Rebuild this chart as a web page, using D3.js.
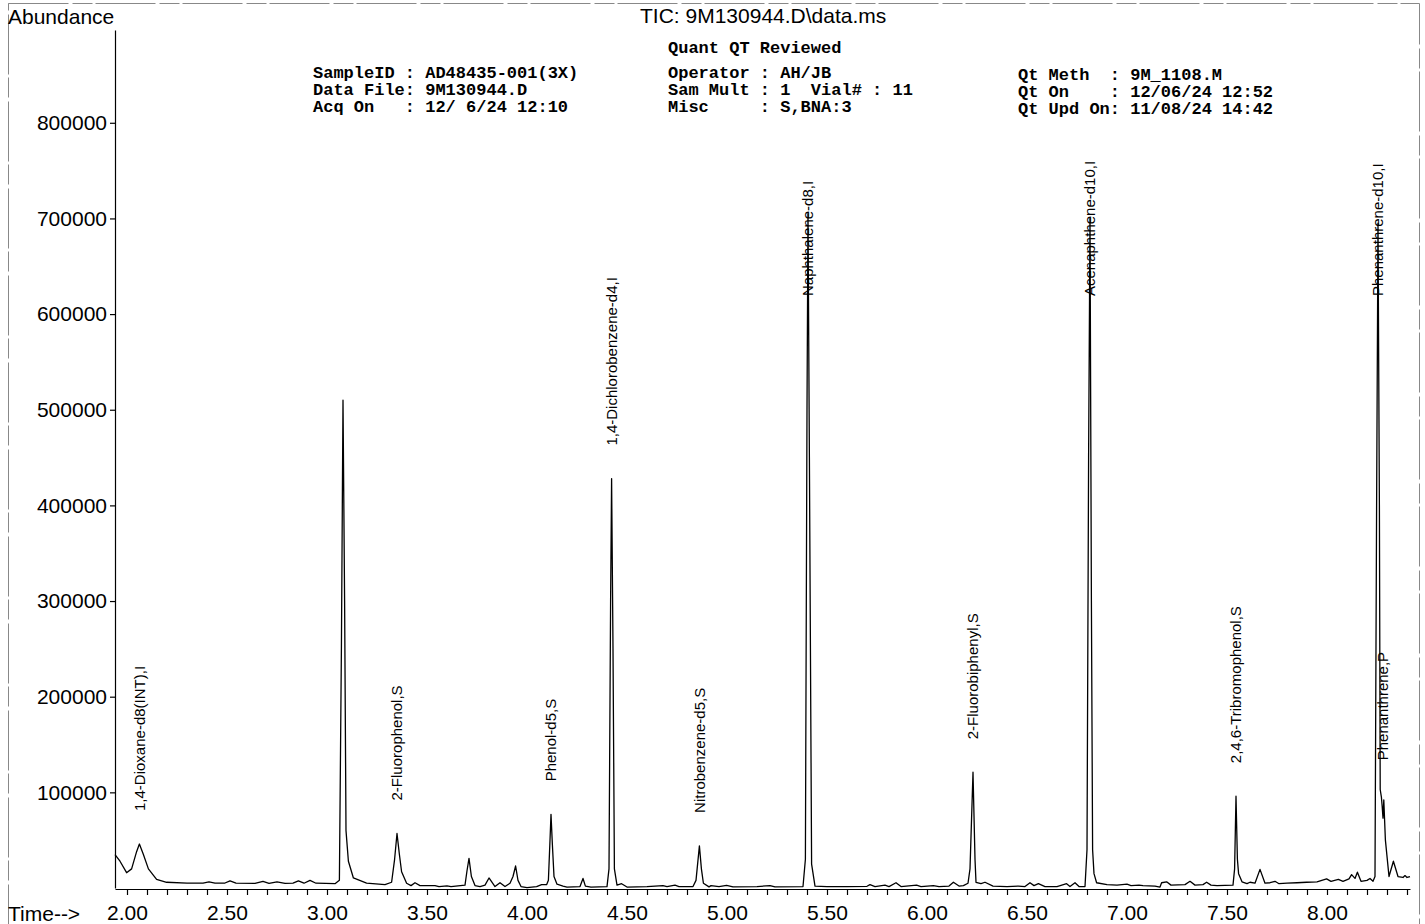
<!DOCTYPE html>
<html>
<head>
<meta charset="utf-8">
<script src="https://cdn.jsdelivr.net/npm/d3@7"></script>
<style>
  body { margin: 0; background: #fff; }
  svg { display: block; font-family: Arial, "Liberation Sans", sans-serif; }
  .mono { font-family: "Courier New", "Liberation Mono", monospace; font-weight: bold; font-size: 17px; white-space: pre; }
  .axis text { font-family: Arial, "Liberation Sans", sans-serif; font-size: 21px; fill: #000; }
  .axis path, .axis line { stroke: #000; stroke-width: 1.2; }
</style>
</head>
<body>
<svg id="chart"></svg>
<script>
// TIC trace: retention time (min) and abundance
const traceTimes = [
  1.940, 1.965, 1.998, 2.023, 2.048, 2.062, 2.082, 2.107, 2.148, 2.198,
  2.300, 2.380, 2.410, 2.440, 2.490, 2.515, 2.545, 2.640, 2.680, 2.710,
  2.750, 2.790, 2.830, 2.857, 2.885, 2.915, 2.945, 3.040, 3.062, 3.072,
  3.080, 3.088, 3.095, 3.107, 3.132, 3.198, 3.290, 3.323, 3.338, 3.350,
  3.362, 3.373, 3.398, 3.420, 3.440, 3.465, 3.540, 3.560, 3.600, 3.620,
  3.690, 3.700, 3.710, 3.722, 3.740, 3.765, 3.790, 3.810, 3.840, 3.865,
  3.890, 3.915, 3.930, 3.943, 3.955, 3.970, 4.000, 4.048, 4.073, 4.098,
  4.107, 4.115, 4.120, 4.127, 4.135, 4.150, 4.180, 4.200, 4.265, 4.280,
  4.292, 4.320, 4.400, 4.410, 4.418, 4.423, 4.430, 4.437, 4.450, 4.473,
  4.500, 4.600, 4.680, 4.700, 4.740, 4.760, 4.830, 4.845, 4.862, 4.872,
  4.882, 4.910, 4.920, 4.960, 4.998, 5.030, 5.150, 5.215, 5.240, 5.380,
  5.392, 5.400, 5.405, 5.412, 5.423, 5.440, 5.500, 5.600, 5.700, 5.715,
  5.740, 5.790, 5.810, 5.845, 5.870, 5.948, 5.970, 6.032, 6.060, 6.110,
  6.132, 6.160, 6.182, 6.205, 6.215, 6.230, 6.240, 6.245, 6.270, 6.290,
  6.330, 6.400, 6.457, 6.490, 6.515, 6.535, 6.557, 6.590, 6.650, 6.698,
  6.715, 6.740, 6.760, 6.790, 6.800, 6.808, 6.815, 6.822, 6.828, 6.835,
  6.848, 6.900, 6.950, 7.000, 7.020, 7.060, 7.080, 7.140, 7.165, 7.173,
  7.198, 7.220, 7.290, 7.315, 7.340, 7.380, 7.398, 7.420, 7.450, 7.530,
  7.538, 7.545, 7.552, 7.558, 7.575, 7.600, 7.615, 7.640, 7.665, 7.690,
  7.715, 7.740, 7.760, 7.800, 7.850, 7.898, 7.950, 7.998, 8.020, 8.057,
  8.080, 8.110, 8.123, 8.140, 8.152, 8.170, 8.200, 8.215, 8.230, 8.240,
  8.248, 8.255, 8.262, 8.266, 8.272, 8.276, 8.280, 8.284, 8.292, 8.310,
  8.332, 8.355, 8.380, 8.390, 8.400, 8.415
];
const traceAbundance = [
  35000, 28000, 16000, 20000, 38000, 46000, 35000, 20000, 9000, 6000,
  5000, 5200, 6500, 5000, 5200, 7500, 5000, 4800, 7000, 4800,
  6500, 4800, 5200, 7500, 5000, 8000, 5000, 4500, 8000, 250000,
  510000, 300000, 60000, 28000, 10500, 5200, 3500, 6000, 30000, 57000,
  35000, 17000, 5000, 2500, 5500, 2500, 2500, 1500, 2200, 1500,
  3000, 18000, 31000, 12000, 2500, 1500, 3000, 10500, 1500, 5500,
  1500, 5000, 12000, 23000, 8000, 1500, 500, 1500, 3500, 3500,
  8000, 50000, 77000, 45000, 12000, 4000, 2000, 1000, 1500, 10000,
  2000, 1000, 1500, 20000, 300000, 428000, 250000, 20000, 3000, 4500,
  1000, 1500, 2500, 1500, 3000, 1500, 1500, 8000, 44000, 20000,
  5000, 1200, 2500, 1500, 2800, 1200, 1500, 2500, 1200, 1500,
  30000, 500000, 705000, 450000, 25000, 2000, 1500, 1500, 1800, 3500,
  1500, 3000, 1500, 5500, 1500, 3000, 1500, 2500, 1500, 2000,
  6000, 2000, 2500, 5000, 20000, 121000, 30000, 6000, 4500, 6000,
  2000, 1500, 2000, 1500, 5500, 2500, 4500, 1500, 1500, 4500,
  1500, 5500, 1500, 1500, 40000, 450000, 700000, 300000, 40000, 15000,
  5500, 3500, 3000, 4000, 2500, 3000, 2500, 2000, 1000, 5500,
  6500, 3000, 3500, 7000, 3000, 3500, 6000, 3000, 2500, 3000,
  20000, 96000, 30000, 15000, 6500, 4500, 6000, 5000, 19500, 5000,
  5500, 7000, 4500, 5000, 5500, 6000, 6500, 9500, 7000, 9000,
  7000, 9500, 14000, 10000, 16500, 7000, 8000, 10000, 7000, 12000,
  400000, 695000, 400000, 103000, 95000, 85000, 73000, 92000, 50000, 12000,
  28000, 12000, 11000, 13000, 11000, 12000
];

// compound annotations: time of peak, name, abundance the label sits over
const labelTimes = [2.062, 3.350, 4.120, 4.423, 4.862, 5.405, 6.230, 6.815, 7.545, 8.255, 8.280];
const labelNames = [
  "1,4-Dioxane-d8(INT),I", "2-Fluorophenol,S", "Phenol-d5,S", "1,4-Dichlorobenzene-d4,I",
  "Nitrobenzene-d5,S", "Naphthalene-d8,I", "2-Fluorobiphenyl,S", "Acenaphthene-d10,I",
  "2,4,6-Tribromophenol,S", "Phenanthrene-d10,I", "Phenanthrene,P"
];
const labelLevels = [46000, 57000, 77000, 428000, 44000, 705000, 121000, 700000, 96000, 695000, 99000];

const yTickValues = [100000, 200000, 300000, 400000, 500000, 600000, 700000, 800000];
const xMajorTicks = ["2.00", "2.50", "3.00", "3.50", "4.00", "4.50", "5.00", "5.50", "6.00", "6.50", "7.00", "7.50", "8.00"];

const headerLeft = ["SampleID : AD48435-001(3X)", "Data File: 9M130944.D", "Acq On   : 12/ 6/24 12:10"];
const headerMid = ["Operator : AH/JB", "Sam Mult : 1  Vial# : 11", "Misc     : S,BNA:3"];
const headerRight = ["Qt Meth  : 9M_1108.M", "Qt On    : 12/06/24 12:52", "Qt Upd On: 11/08/24 14:42"];

const width = 1425, height = 924;
const svg = d3.select("#chart").attr("width", width).attr("height", height);

svg.append("rect").attr("width", width).attr("height", height).attr("fill", "#fff");

// faint page edge from the scan
svg.append("rect")
  .attr("x", 8.5).attr("y", 3.5).attr("width", 1411).attr("height", 930)
  .attr("fill", "none").attr("stroke", "#888").attr("stroke-width", 1)
  .attr("stroke-dasharray", "60,4,20,3");

const x = d3.scaleLinear().domain([1.94, 8.415]).range([115, 1410]);
const y = d3.scaleLinear().domain([0, 897000]).range([888, 30]);

// y axis
const yAxis = d3.axisLeft(y)
  .tickValues(yTickValues)
  .tickFormat(d3.format("d"))
  .tickSize(5)
  .tickPadding(3)
  .tickSizeOuter(0);
svg.append("g").attr("class", "axis y-axis")
  .attr("transform", "translate(115,0)")
  .call(yAxis);

// x axis: minor tick every 0.1 min, labels each 0.5 min
const xTickValues = d3.range(20, 85).map(i => i / 10);
const xAxis = d3.axisBottom(x)
  .tickValues(xTickValues)
  .tickFormat(d => {
    const s = d.toFixed(2);
    return xMajorTicks.includes(s) ? s : "";
  })
  .tickSize(6)
  .tickPadding(10)
  .tickSizeOuter(0);
svg.append("g").attr("class", "axis x-axis")
  .attr("transform", "translate(0,889)")
  .call(xAxis);

svg.append("text").attr("x", 8).attr("y", 921)
  .attr("font-size", 21).text("Time-->");
svg.append("text").attr("x", 8).attr("y", 24)
  .attr("font-size", 21).text("Abundance");
svg.append("text").attr("x", 640).attr("y", 23)
  .attr("font-size", 21).text("TIC: 9M130944.D\\data.ms");

svg.append("text").attr("class", "mono").attr("x", 668).attr("y", 53).text("Quant QT Reviewed");

function block(lines, x0, y0) {
  svg.append("g").selectAll("text")
    .data(lines)
    .join("text")
    .attr("class", "mono")
    .attr("x", x0)
    .attr("y", (d, i) => y0 + i * 16.8)
    .text(d => d);
}
block(headerLeft, 313, 78);
block(headerMid, 668, 78);
block(headerRight, 1018, 80);

// peak labels, sitting above the apex but capped below the header
const labels = labelTimes.map((t, i) => ({ t, name: labelNames[i], level: labelLevels[i] }));
svg.append("g").selectAll("text")
  .data(labels)
  .join("text")
  .attr("transform", d => `translate(${x(d.t)},${Math.max(y(d.level) - 33, 296)}) rotate(-90)`)
  .attr("dy", "0.36em")
  .attr("font-size", 15)
  .text(d => d.name);

// the trace
const points = traceTimes.map((t, i) => [t, traceAbundance[i]]);
const line = d3.line().x(d => x(d[0])).y(d => y(d[1]));
svg.append("path")
  .datum(points)
  .attr("fill", "none")
  .attr("stroke", "#000")
  .attr("stroke-width", 1.3)
  .attr("stroke-linejoin", "round")
  .attr("d", line);
</script>
</body>
</html>
